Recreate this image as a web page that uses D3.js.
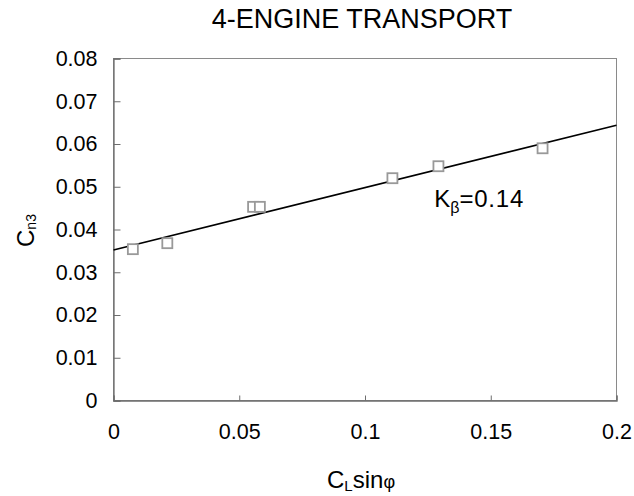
<!DOCTYPE html>
<html>
<head>
<meta charset="utf-8">
<script src="https://cdn.jsdelivr.net/npm/d3@7"></script>
<style>
  html, body { margin: 0; padding: 0; background: #fff; }
  svg { display: block; font-family: "Liberation Sans", Arial, sans-serif; }
</style>
</head>
<body>
<svg id="chart" width="634" height="496"></svg>
<script>
// ---- data ----
const title = "4-ENGINE TRANSPORT";
const pointX = [0.0077, 0.0214, 0.0555, 0.0582, 0.1109, 0.1292, 0.1706];
const pointY = [0.0354, 0.0368, 0.0453, 0.0453, 0.0520, 0.0548, 0.0590];
const fitX = [0, 0.2];
const fitY = [0.0352, 0.0644];
const xTicks = [0, 0.05, 0.1, 0.15, 0.2];
const xTickLabels = ["0", "0.05", "0.1", "0.15", "0.2"];
const yTicks = [0, 0.01, 0.02, 0.03, 0.04, 0.05, 0.06, 0.07, 0.08];
const yTickLabels = ["0", "0.01", "0.02", "0.03", "0.04", "0.05", "0.06", "0.07", "0.08"];
const annotation = { x: 0.1275, y: 0.0452, main: "K", sub: "β", rest: "=0.14" };

// ---- layout ----
const svg = d3.select("#chart");
const mLeft = 113.5, mRight = 616.5, mTop = 58.5, mBottom = 400.5;

const x = d3.scaleLinear().domain([0, 0.2]).range([mLeft, mRight]);
const y = d3.scaleLinear().domain([0, 0.08]).range([mBottom, mTop]);

const axisColor = "#6e6e6e";

// frame
svg.append("rect")
  .attr("x", mLeft).attr("y", mTop)
  .attr("width", mRight - mLeft).attr("height", mBottom - mTop)
  .attr("fill", "none").attr("stroke", "#8a8a8a").attr("stroke-width", 1);

// y axis (ticks inside)
const yAxis = d3.axisRight(y).tickValues(yTicks)
  .tickFormat((d, i) => yTickLabels[i]).tickSize(7).tickPadding(0);
const gy = svg.append("g").attr("transform", `translate(${mLeft},0)`).call(yAxis);
gy.select(".domain").attr("stroke", axisColor).attr("stroke-width", 1.3);
gy.selectAll(".tick line").attr("stroke", axisColor);
gy.selectAll(".tick text")
  .attr("x", -16).attr("text-anchor", "end")
  .attr("fill", "#000").attr("font-size", 21.5)
  .attr("font-family", "Liberation Sans, Arial, sans-serif");

// x axis (ticks inside)
const xAxis = d3.axisTop(x).tickValues(xTicks)
  .tickFormat((d, i) => xTickLabels[i]).tickSize(5).tickPadding(0);
const gx = svg.append("g").attr("transform", `translate(0,${mBottom})`).call(xAxis);
gx.select(".domain").attr("stroke", axisColor).attr("stroke-width", 1.3);
gx.selectAll(".tick line").attr("stroke", axisColor);
gx.selectAll(".tick text")
  .attr("y", 38).attr("dy", 0)
  .attr("fill", "#000").attr("font-size", 21.5)
  .attr("font-family", "Liberation Sans, Arial, sans-serif");

// fit line
const line = d3.line().x(d => x(d[0])).y(d => y(d[1]));
svg.append("path")
  .datum(fitX.map((v, i) => [v, fitY[i]]))
  .attr("d", line)
  .attr("fill", "none").attr("stroke", "#000").attr("stroke-width", 1.6);

// points
const sz = 10;
svg.append("g").selectAll("rect")
  .data(pointX.map((v, i) => [v, pointY[i]]))
  .join("rect")
  .attr("x", d => x(d[0]) - sz / 2)
  .attr("y", d => y(d[1]) - sz / 2)
  .attr("width", sz).attr("height", sz)
  .attr("fill", "#fff").attr("stroke", "#999").attr("stroke-width", 1.8);

// title
svg.append("text")
  .attr("x", 362).attr("y", 28)
  .attr("text-anchor", "middle").attr("font-size", 27).attr("fill", "#000")
  .text(title);

// annotation
const ann = svg.append("text")
  .attr("x", x(annotation.x)).attr("y", y(annotation.y))
  .attr("font-size", 24).attr("fill", "#000");
ann.append("tspan").text(annotation.main);
ann.append("tspan").attr("font-size", 16).attr("dy", 6).text(annotation.sub);
ann.append("tspan").attr("dy", -6).attr("letter-spacing", 0.8).text(annotation.rest);

// x label
const xl = svg.append("text")
  .attr("x", 327).attr("y", 488)
  .attr("font-size", 24).attr("fill", "#000");
xl.append("tspan").text("C");
xl.append("tspan").attr("font-size", 15).attr("dy", 3).text("L");
xl.append("tspan").attr("dy", -3).text("sin");
xl.append("tspan").attr("font-size", 18).text("φ");

// y label
const yl = svg.append("text")
  .attr("transform", "translate(34,247) rotate(-90)")
  .attr("font-size", 24).attr("fill", "#000");
yl.append("tspan").text("C");
yl.append("tspan").attr("font-size", 14).attr("dy", 2).text("n3");
</script>
</body>
</html>
